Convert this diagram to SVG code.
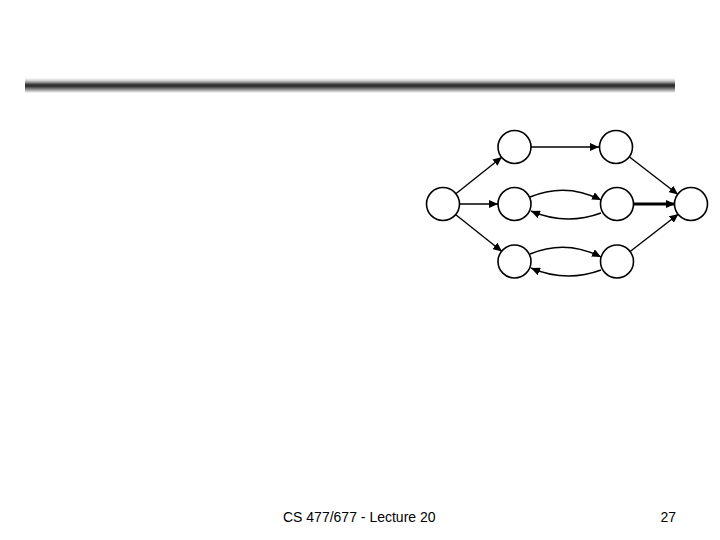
<svg xmlns="http://www.w3.org/2000/svg" width="720" height="540" viewBox="0 0 720 540">
<defs>
<linearGradient id="bar" x1="0" y1="0" x2="0" y2="1">
<stop offset="0" stop-color="#ffffff"/>
<stop offset="0.2" stop-color="#c8c8c8"/>
<stop offset="0.45" stop-color="#303030"/>
<stop offset="0.55" stop-color="#303030"/>
<stop offset="0.8" stop-color="#a0a0a0"/>
<stop offset="1" stop-color="#ffffff"/>
</linearGradient>
<marker id="ah" markerUnits="userSpaceOnUse" markerWidth="10" markerHeight="8" refX="9" refY="4" orient="auto">
<path d="M0,0 L9,4 L0,8 Z" fill="#000"/>
</marker>
</defs>
<style>
.n{fill:#fff;stroke:#000;stroke-width:1.6}
.e{fill:none;stroke:#000;stroke-width:1.4;marker-end:url(#ah)}
.t{font-family:"Liberation Sans",Arial,sans-serif;font-size:14px;fill:#000}
</style>
<rect x="25" y="78" width="650" height="15" fill="url(#bar)"/>
<g id="edges">
<line class="e" x1="455.5" y1="194" x2="502" y2="157"/>
<line class="e" x1="460" y1="204" x2="498" y2="204"/>
<line class="e" x1="455.5" y1="214.5" x2="502" y2="251.5"/>
<line class="e" x1="531" y1="147" x2="599" y2="147"/>
<line class="e" x1="629.5" y1="157" x2="678" y2="194.5"/>
<line class="e" x1="634" y1="204" x2="675" y2="204" style="stroke-width:3"/>
<line class="e" x1="629.5" y1="252" x2="678.5" y2="214"/>
<path class="e" d="M530,197 Q566,182 601,200"/>
<path class="e" d="M601,213 Q566,226 531,211"/>
<path class="e" d="M530,254 Q566,239 601,257"/>
<path class="e" d="M601,270 Q566,283 531,268"/>
</g>
<g id="n1"><circle class="n" cx="443" cy="204" r="16.5"/></g>
<g id="n2"><circle class="n" cx="514.5" cy="147" r="16.5"/></g>
<g id="n3"><circle class="n" cx="616" cy="147" r="16.5"/></g>
<g id="n4"><circle class="n" cx="514.5" cy="204" r="16.5"/></g>
<g id="n5"><circle class="n" cx="617" cy="204" r="16.5"/></g>
<g id="n6"><circle class="n" cx="691" cy="204" r="16.5"/></g>
<g id="n7"><circle class="n" cx="514.5" cy="261.5" r="16.5"/></g>
<g id="n8"><circle class="n" cx="617" cy="261.5" r="16.5"/></g>
<text class="t" x="283" y="522">CS 477/677 - Lecture 20</text>
<text class="t" x="676" y="522" text-anchor="end">27</text>
</svg>
